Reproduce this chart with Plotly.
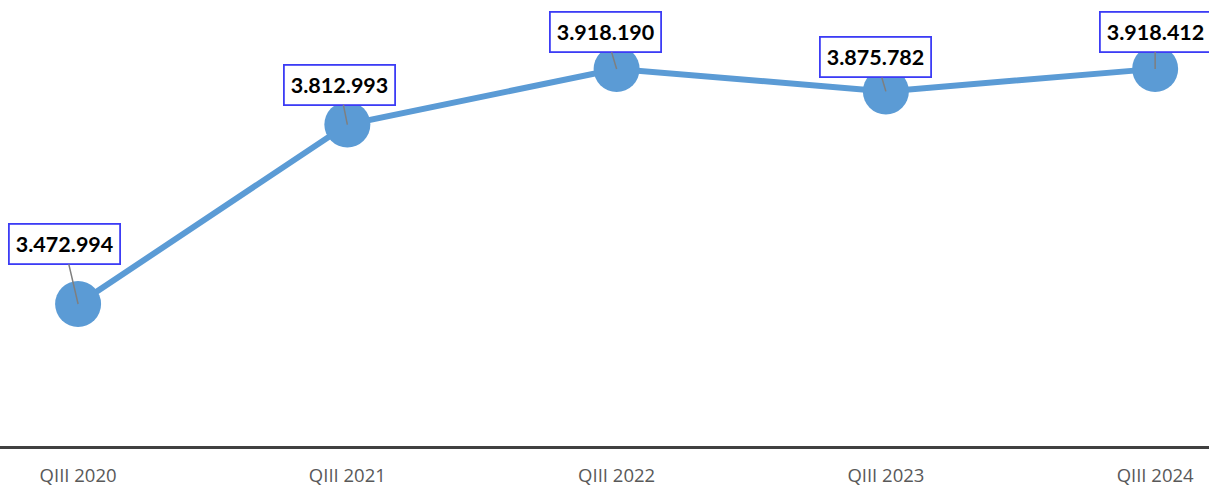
import plotly.graph_objects as go

categories = ["QIII 2020", "QIII 2021", "QIII 2022", "QIII 2023", "QIII 2024"]
values = [3472994, 3812993, 3918190, 3875782, 3918412]
labels = ["3.472.994", "3.812.993", "3.918.190", "3.875.782", "3.918.412"]
label_dx = [-14, -8, -11, -10, 0]
label_dy = [-60, -40, -37, -34, -37]

x_idx = list(range(len(categories)))

fig = go.Figure()
fig.add_trace(go.Scatter(
    x=x_idx, y=values, mode="lines+markers",
    line=dict(color="#5b9bd5", width=6),
    marker=dict(color="#5b9bd5", size=46),
    hoverinfo="skip", showlegend=False, cliponaxis=False,
))

for xi, v, t, dx, dy in zip(x_idx, values, labels, label_dx, label_dy):
    fig.add_annotation(
        x=xi, y=v, text="<b>" + t + "</b>", showarrow=True,
        ax=dx, ay=dy, arrowhead=0, arrowwidth=1.5, arrowcolor="#7f7f7f",
        standoff=0, startstandoff=0,
        font=dict(family="Lato", size=21.5, color="#000000"),
        bgcolor="#ffffff", bordercolor="#3c3cf5", borderwidth=1.8, borderpad=6,
    )

fig.update_layout(
    width=1209, height=488,
    margin=dict(l=0, r=0, t=0, b=42),
    paper_bgcolor="#ffffff", plot_bgcolor="#ffffff",
    xaxis=dict(
        range=[-0.29, 4.2], tickmode="array", tickvals=x_idx, ticktext=categories,
        showgrid=False, zeroline=False, showline=True, linecolor="#404040", linewidth=3,
        ticks="", tickfont=dict(family="Open Sans", size=18.5, color="#595959"),
        ticklabelstandoff=11, automargin=False, fixedrange=True,
    ),
    yaxis=dict(
        range=[3204000, 4048900], visible=False, showgrid=False, zeroline=False,
        automargin=False, fixedrange=True,
    ),
)

fig.write_html(
    "out.html",
    config={"displayModeBar": False},
    post_script="document.body.style.margin='0';document.body.style.overflow='hidden';",
)
